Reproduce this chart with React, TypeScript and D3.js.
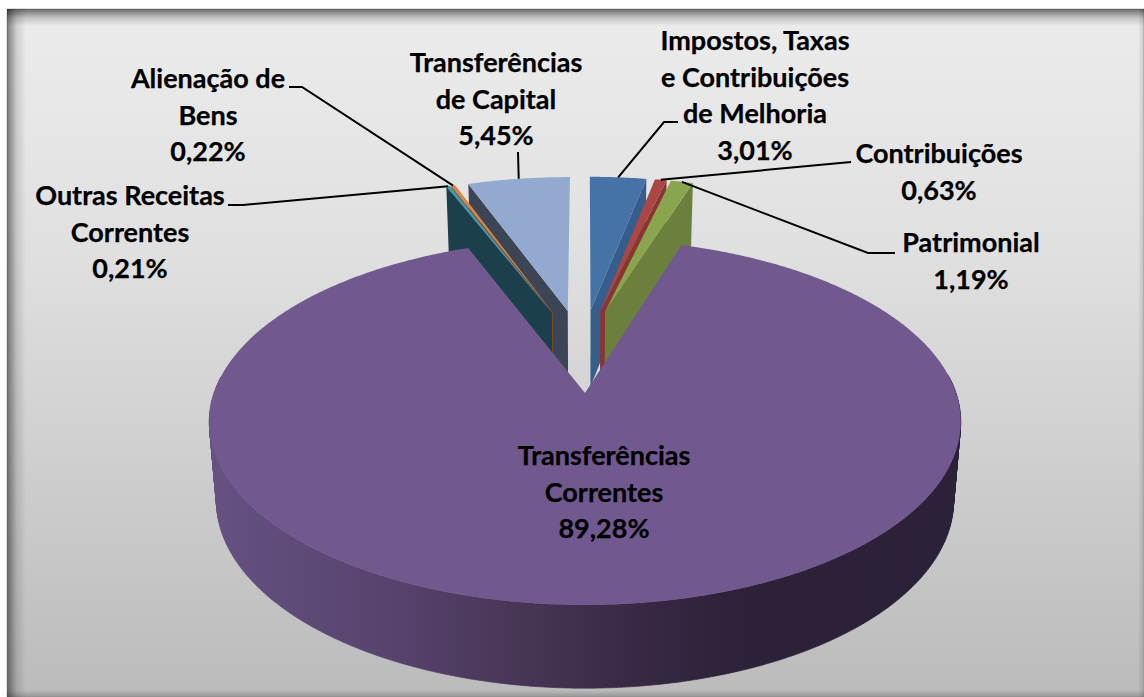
import React from "react";
import * as d3 from "d3";

const W = 1144, H = 697;

// ---- data
const categories = ["Impostos, Taxas e Contribuições de Melhoria", "Contribuições", "Patrimonial", "Transferências Correntes", "Outras Receitas Correntes", "Alienação de Bens", "Transferências de Capital"];
const values = [3.01, 0.63, 1.19, 89.28, 0.21, 0.22, 5.45];
const valueLabels = ["3,01%", "0,63%", "1,19%", "89,28%", "0,21%", "0,22%", "5,45%"];
const labelLines = [
  ["Impostos, Taxas", "e Contribuições", "de Melhoria"],
  ["Contribuições"],
  ["Patrimonial"],
  ["Transferências", "Correntes"],
  ["Outras Receitas", "Correntes"],
  ["Alienação de", "Bens"],
  ["Transferências", "de Capital"],
];

// ---- style / layout
const topColors = ["#4572A7", "#AA4643", "#89A54E", "#71588F", "#4198AF", "#DB843D", "#93A9CF"];
const faceColors = ["#365E8C", "#8A3532", "#6C803D", "#2b2038", "#1B3F4B", "#7A4A2A", "#3C4556"];
const labelPos = [
  { x: 755, y: 50 }, { x: 939, y: 163 }, { x: 971, y: 252 }, { x: 604, y: 465 },
  { x: 130, y: 205 }, { x: 208, y: 88 }, { x: 496, y: 72 },
];
// leader bend and end points; start point comes from the slice's rim
const leaders: ([number, number][] | null)[] = [
  [[664, 122], [678, 122]],
  [[851, 162]],
  [[868, 253], [895, 253]],
  null,
  [[243, 205], [228, 205]],
  [[302, 87], [289, 87]],
  [[518, 152]],
];
const paintOrder = [6, 5, 4, 0, 1, 2, 3];
const LINE = 36.6, FONT = 'Lato, "Noto Sans", sans-serif', FS = 27;

// ---- projection of the pie plane (unit disc) with perspective
const CX = 585, CY = 393, RX = 371, SY = 178.4, K = 0.158;
const EXPLODE = 0.25, PIE_C: [number, number] = [-0.0075, -0.25];
type P = [number, number];
const proj = ([X, Y]: P): P => {
  const w = 1 - K * Y;
  return [CX + (RX * X) / w, CY + (SY * Y) / w];
};
const projBottom = ([X, Y]: P): P => {
  const w = 1 - K * Y;
  return [CX + (RX * X * 0.981) / w, CY + (SY * Y) / w + 78 + (4.5 * Y) / w];
};

const pie = d3.pie<number>().sort(null).startAngle(0).endAngle(2 * Math.PI);
const arcs = pie(values);
const line = d3.line<P>();

const slices = arcs.map((a, i) => {
  const mid = (a.startAngle + a.endAngle) / 2;
  const isMain = i === 3;
  const o: P = isMain ? [0, 0] : [PIE_C[0] + EXPLODE * Math.sin(mid), PIE_C[1] - EXPLODE * Math.cos(mid)];
  const steps = Math.max(2, Math.ceil((a.endAngle - a.startAngle) / 0.01));
  const rim: P[] = d3.range(steps + 1).map((s) => {
    const t = a.startAngle + ((a.endAngle - a.startAngle) * s) / steps;
    return [o[0] + Math.sin(t), o[1] - Math.cos(t)] as P;
  });
  return { i, o, rim, mid, isMain };
});

const closed = (pts: P[]) => line(pts) + "Z";

export default function App() {
  return (
    <svg width={W} height={H} viewBox={`0 0 ${W} ${H}`} style={{ position: "absolute", left: 0, top: 0, display: "block" }}>
      <defs>
        <linearGradient id="bg" x1="0" y1="0" x2="0" y2="1">
          <stop offset="0" stopColor="#ececec" />
          <stop offset="0.35" stopColor="#e0e0e0" />
          <stop offset="1" stopColor="#bbbbbb" />
        </linearGradient>
        <linearGradient id="shT" x1="0" y1="0" x2="0" y2="1">
          <stop offset="0" stopColor="#000" stopOpacity="0.55" />
          <stop offset="0.5" stopColor="#000" stopOpacity="0.18" />
          <stop offset="1" stopColor="#000" stopOpacity="0" />
        </linearGradient>
        <linearGradient id="shL" x1="0" y1="0" x2="1" y2="0">
          <stop offset="0" stopColor="#000" stopOpacity="0.48" />
          <stop offset="0.5" stopColor="#000" stopOpacity="0.13" />
          <stop offset="1" stopColor="#000" stopOpacity="0" />
        </linearGradient>
        <linearGradient id="shR" x1="1" y1="0" x2="0" y2="0">
          <stop offset="0" stopColor="#000" stopOpacity="0.15" />
          <stop offset="1" stopColor="#000" stopOpacity="0" />
        </linearGradient>
        <linearGradient id="shB" x1="0" y1="1" x2="0" y2="0">
          <stop offset="0" stopColor="#000" stopOpacity="0.2" />
          <stop offset="1" stopColor="#000" stopOpacity="0" />
        </linearGradient>
        <linearGradient id="side" gradientUnits="userSpaceOnUse" x1="209" y1="0" x2="961" y2="0">
          <stop offset="0" stopColor="#665282" />
          <stop offset="0.25" stopColor="#56426c" />
          <stop offset="0.42" stopColor="#473555" />
          <stop offset="0.55" stopColor="#392a47" />
          <stop offset="0.7" stopColor="#2d2238" />
          <stop offset="1" stopColor="#2b2138" />
        </linearGradient>
      </defs>
      <rect width={W} height={H} fill="#ffffff" />
      <rect x={7} y={9} width={W - 7} height={H - 9} fill="url(#bg)" stroke="#b0b0b0" strokeWidth={0.8} />
      <rect x={7} y={9} width={W - 7} height={17} fill="url(#shT)" />
      <rect x={7} y={9} width={19} height={H - 9} fill="url(#shL)" />
      <rect x={W - 6} y={9} width={6} height={H - 9} fill="url(#shR)" />
      <rect x={7} y={H - 7} width={W - 7} height={7} fill="url(#shB)" />

      {paintOrder.map((idx) => {
        const s = slices[idx];
        const first = s.rim[0];
        const last = s.rim[s.rim.length - 1];
        if (s.isMain) {
          const top = s.rim.map(proj);
          const wall = s.rim.filter((p) => p[1] > -0.1);
          const wallD = d3.range(wall.length - 1)
            .map((j) => closed([proj(wall[j]), proj(wall[j + 1]), projBottom(wall[j + 1]), projBottom(wall[j])]))
            .join("");
          return (
            <g key={idx}>
              <path d={wallD} fill="url(#side)" stroke="url(#side)" strokeWidth={0.6} />
              <path d={closed([proj(s.o), ...top])} fill={topColors[idx]} />
            </g>
          );
        }
        // the cut face that looks towards the viewer: start edge left of centre, end edge right of it
        const edge = s.mid > Math.PI ? first : last;
        const face = [proj(s.o), proj(edge), projBottom(edge), projBottom(s.o)];
        return (
          <g key={idx}>
            <path d={closed(face)} fill={faceColors[idx]} />
            <path d={closed([proj(s.o), ...s.rim.map(proj)])} fill={topColors[idx]} />
          </g>
        );
      })}

      {leaders.map((l, i) => {
        if (!l) return null;
        const s = slices[i];
        const a: P = proj([s.o[0] + Math.sin(s.mid), s.o[1] - Math.cos(s.mid)]);
        return <path key={i} d={line([a, ...l])!} fill="none" stroke="#000" strokeWidth={2} />;
      })}

      {categories.map((c, i) => {
        const lines = [...labelLines[i], valueLabels[i]];
        return (
          <text key={c} textAnchor="middle" fontFamily={FONT} fontWeight={700} fontSize={FS} fill="#000" stroke="#000" strokeWidth={0.25}>
            {lines.map((t, j) => (
              <tspan key={j} x={labelPos[i].x} y={labelPos[i].y + j * LINE}>{t}</tspan>
            ))}
          </text>
        );
      })}
    </svg>
  );
}
